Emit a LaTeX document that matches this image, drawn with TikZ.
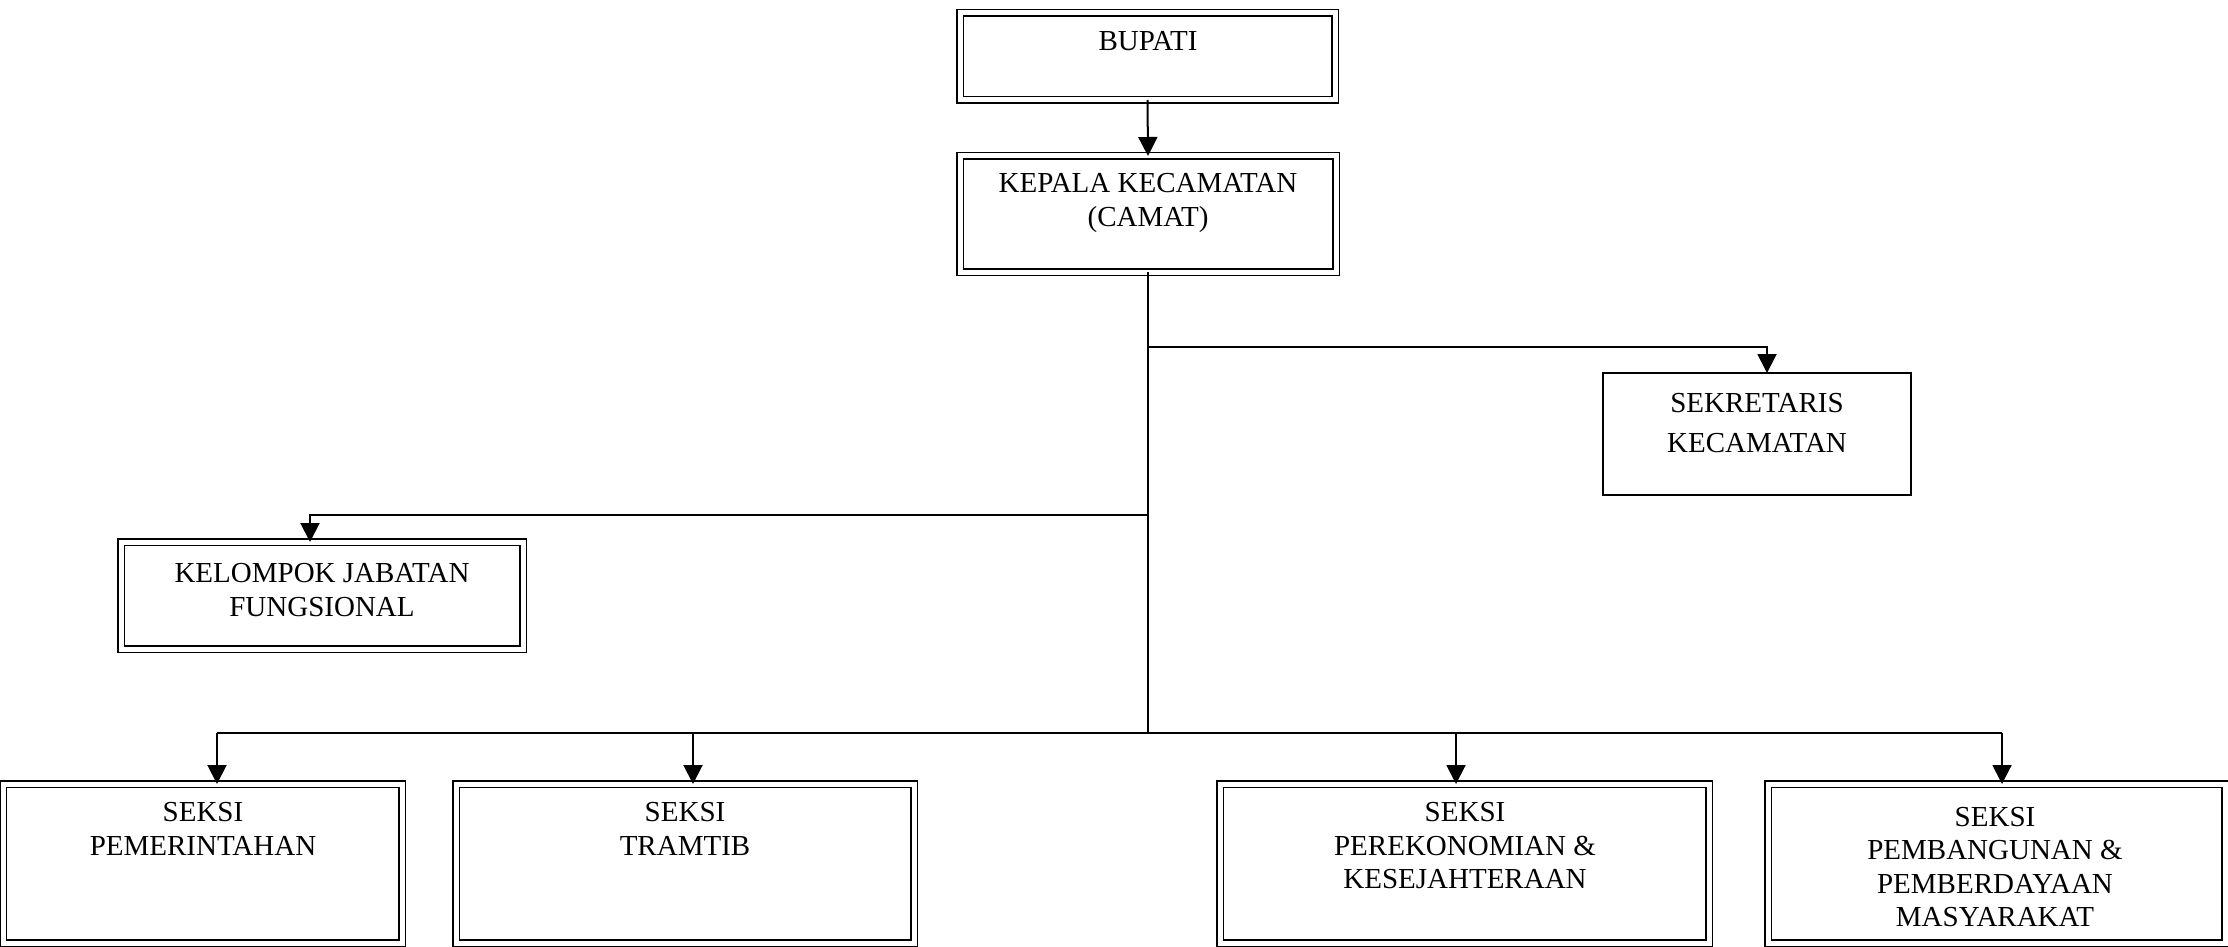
\documentclass[tikz,border=0pt]{standalone}
\usepackage{fontspec}
\setmainfont{Liberation Serif}
\usetikzlibrary{arrows.meta}
\begin{document}
\begin{tikzpicture}[x=0.5pt,y=-0.5pt,
  dbox/.style={draw=black, line width=0.85pt, double=white, double distance=2.5pt, inner sep=0pt, outer sep=0pt},
  sbox/.style={draw=black, line width=1pt, inner sep=0pt, outer sep=0pt},
  lbl/.style={align=center, inner sep=0pt, font=\fontsize{14.5}{16.75}\selectfont},
  conn/.style={draw=black, line width=1pt},
  arr/.style={conn, -{Triangle[width=9.5pt,length=9.5pt]}}]
\useasboundingbox (0,0) rectangle (2228,947);
\clip (0,0) rectangle (2228,947);
\fill[white] (0,0) rectangle (2228,947);

% boxes
\node[dbox, minimum width=187.5pt, minimum height=43.5pt] (bupati) at (1147.5,56.5) {};
\node[dbox, minimum width=188pt, minimum height=58pt] (kepala) at (1148,214) {};
\node[sbox, minimum width=154pt, minimum height=61pt] (sek) at (1757,434) {};
\node[dbox, minimum width=201pt, minimum height=53.5pt] (kel) at (322,595.5) {};
\node[dbox, minimum width=199.5pt, minimum height=79.5pt] (s1) at (202.5,863.5) {};
\node[dbox, minimum width=229pt, minimum height=79.5pt] (s2) at (685,863.5) {};
\node[dbox, minimum width=244.5pt, minimum height=79.5pt] (s3) at (1464.5,863.5) {};
\node[dbox, minimum width=228.5pt, minimum height=79.5pt] (s4) at (1996.5,863.5) {};

% texts
\node[lbl] (tbupati) at (1148,41) {BUPATI};
\node[lbl] (tkepala) at (1148,203) {KEPALA KECAMATAN\\(CAMAT)};
\node[lbl] (tsek) at (1757,423) {SEKRETARIS\\[3.5pt]KECAMATAN};
\node[lbl] (tkel) at (322,590) {KELOMPOK JABATAN\\FUNGSIONAL};
\node[lbl] (ts1) at (203,829) {SEKSI\\PEMERINTAHAN};
\node[lbl] (ts2) at (685,829) {SEKSI\\TRAMTIB};
\node[lbl] (ts3) at (1465,846) {SEKSI\\PEREKONOMIAN \&\\KESEJAHTERAAN};
\node[lbl] (ts4) at (1995,867) {SEKSI\\PEMBANGUNAN \&\\PEMBERDAYAAN\\MASYARAKAT};

% junction coordinates
\coordinate (jsek) at (1148,347);
\coordinate (ksek) at (1767,347);
\coordinate (jkel) at (1148,515);
\coordinate (kkel) at (310,515);
\coordinate (jbot) at (1148,733);
\coordinate (k1) at (217,733);
\coordinate (k2) at (693,733);
\coordinate (k3) at (1456,733);
\coordinate (k4) at (2002,733);

% connectors
\draw[arr] (bupati.south) -- (kepala.north);
\draw[conn] (kepala.south) -- (jbot);
\draw[arr] (jsek) -- (ksek) -- (sek.north -| ksek);
\draw[arr] (jkel) -- (kkel) -- (kel.north -| kkel);
\draw[conn] (k1) -- (k4);
\draw[arr] (k1) -- (s1.north -| k1);
\draw[arr] (k2) -- (s2.north -| k2);
\draw[arr] (k3) -- (s3.north -| k3);
\draw[arr] (k4) -- (s4.north -| k4);
\end{tikzpicture}
\end{document}
